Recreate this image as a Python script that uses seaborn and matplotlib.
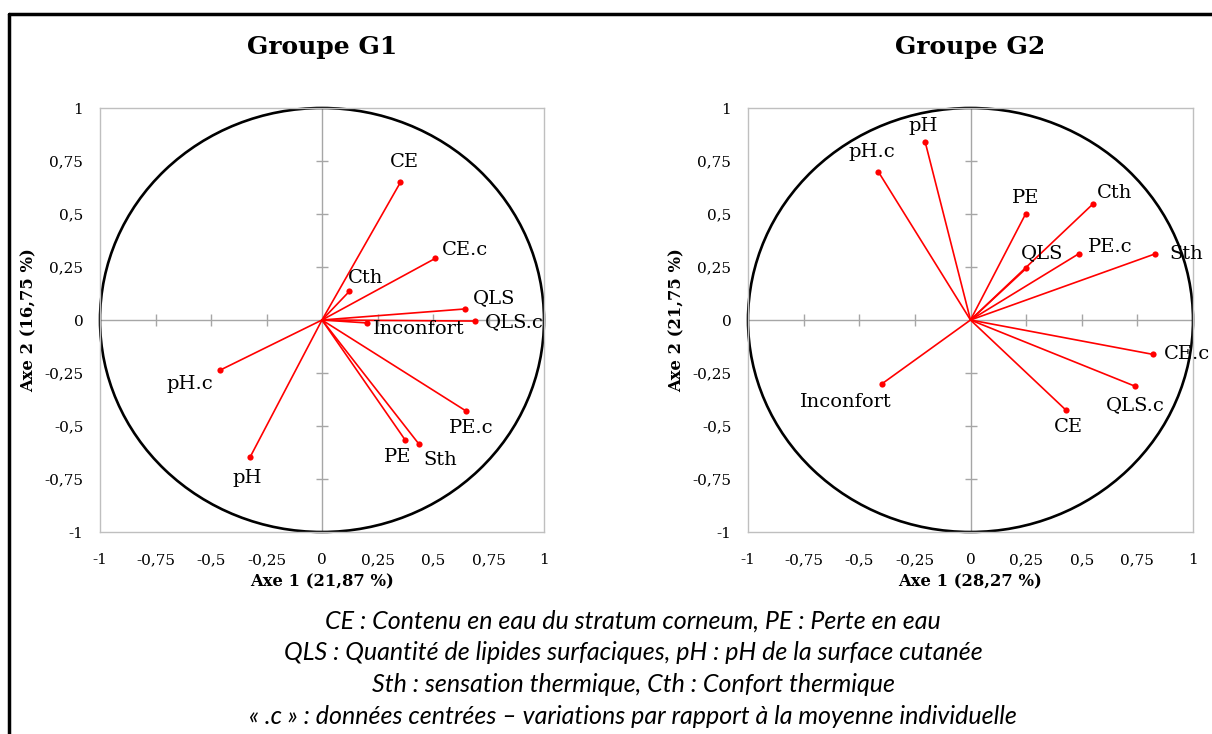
import numpy as np
import pandas as pd
import matplotlib
matplotlib.use('Agg')
import matplotlib.pyplot as plt
import seaborn as sns
from matplotlib.patches import Circle
from matplotlib.lines import Line2D

# variables and their coordinates on the first two axes (correlation circle)
g1_vars = ['CE', 'CE.c', 'Cth', 'QLS', 'QLS.c', 'Inconfort', 'PE.c', 'PE', 'Sth', 'pH.c', 'pH']
g1_axe1 = [0.353, 0.511, 0.123, 0.643, 0.691, 0.204, 0.647, 0.374, 0.435, -0.458, -0.324]
g1_axe2 = [0.649, 0.291, 0.135, 0.052, -0.005, -0.014, -0.428, -0.565, -0.583, -0.236, -0.647]

g2_vars = ['pH', 'pH.c', 'PE', 'Cth', 'QLS', 'PE.c', 'Sth', 'CE.c', 'QLS.c', 'CE', 'Inconfort']
g2_axe1 = [-0.204, -0.414, 0.248, 0.549, 0.251, 0.486, 0.830, 0.819, 0.741, 0.429, -0.398]
g2_axe2 = [0.841, 0.699, 0.501, 0.546, 0.244, 0.312, 0.312, -0.162, -0.313, -0.425, -0.301]

titles = ['Groupe G1', 'Groupe G2']
x_labels = ['Axe 1 (21,87 %)', 'Axe 1 (28,27 %)']
y_labels = ['Axe 2 (16,75 %)', 'Axe 2 (21,75 %)']

ticks = [-1, -0.75, -0.5, -0.25, 0, 0.25, 0.5, 0.75, 1]
tick_labels = ['-1', '-0,75', '-0,5', '-0,25', '0', '0,25', '0,5', '0,75', '1']

caption = ["CE : Contenu en eau du stratum corneum, PE : Perte en eau",
           "QLS : Quantité de lipides surfaciques, pH : pH de la surface cutanée",
           "Sth : sensation thermique, Cth : Confort thermique",
           "« .c » : données centrées – variations par rapport à la moyenne individuelle"]

# label placement (pixels offset from the point, horizontal alignment)
g1_offsets = {'CE': (4, 20, 'center'), 'CE.c': (6, 8, 'left'), 'Cth': (-1, 13, 'left'),
              'QLS': (8, 11, 'left'), 'QLS.c': (9, -1, 'left'), 'Inconfort': (6, -6, 'left'),
              'PE.c': (6, -17, 'center'), 'PE': (-7, -17, 'center'), 'Sth': (22, -16, 'center'),
              'pH.c': (-31, -14, 'center'), 'pH': (-3, -21, 'center')}
g2_offsets = {'pH': (-2, 16, 'center'), 'pH.c': (-7, 20, 'center'), 'PE': (0, 16, 'center'),
              'Cth': (4, 11, 'left'), 'QLS': (16, 15, 'center'), 'PE.c': (9, 7, 'left'),
              'Sth': (14, 0, 'left'), 'CE.c': (11, 0, 'left'), 'QLS.c': (0, -19, 'center'),
              'CE': (2, -17, 'center'), 'Inconfort': (-36, -18, 'center')}

sns.set_style('white')
plt.rcParams['font.family'] = ['DejaVu Serif']
plt.rcParams['text.color'] = 'black'
plt.rcParams['axes.labelcolor'] = 'black'
plt.rcParams['xtick.color'] = 'black'
plt.rcParams['ytick.color'] = 'black'

fig = plt.figure(figsize=(12.12, 7.34), dpi=100)
W, H = 1212, 734


def correlation_circle(rect, names, a1, a2, offsets, title, xlabel, ylabel):
    ax = fig.add_axes(rect)
    ax.set_xlim(-1, 1)
    ax.set_ylim(-1, 1)
    for s in ax.spines.values():
        s.set_color('#bfbfbf')
        s.set_linewidth(1)

    # zero lines with small cross ticks
    ax.axhline(0, color='#a6a6a6', lw=1, zorder=1)
    ax.axvline(0, color='#a6a6a6', lw=1, zorder=1)
    inner = [t for t in ticks if 0 < abs(t) < 1]
    ax.plot(inner, [0] * len(inner), ls='none', marker='|', ms=8, mew=1, color='#a6a6a6', zorder=1)
    ax.plot([0] * len(inner), inner, ls='none', marker='_', ms=8, mew=1, color='#a6a6a6', zorder=1)

    ax.add_patch(Circle((0, 0), 1, fill=False, ec='black', lw=1.9, zorder=2, clip_on=False))

    df = pd.DataFrame({'var': names, 'x': a1, 'y': a2})
    segs = pd.concat([pd.DataFrame({'var': names, 'x': 0.0, 'y': 0.0, 'o': 0}),
                      df.assign(o=1)]).sort_values(['var', 'o'])
    sns.lineplot(data=segs, x='x', y='y', units='var', estimator=None, sort=False,
                 color='red', lw=1.2, ax=ax, zorder=3)
    sns.scatterplot(data=df, x='x', y='y', color='red', s=20, linewidth=0, ax=ax, zorder=4)

    for n, x, y in zip(names, a1, a2):
        dx, dy, ha = offsets[n]
        ax.annotate(n, (x, y), xytext=(dx, dy), textcoords='offset pixels',
                    ha=ha, va='center', fontsize=14, zorder=5)

    ax.set_xticks(ticks)
    ax.set_yticks(ticks)
    ax.set_xticklabels(tick_labels, fontsize=11)
    ax.set_yticklabels(tick_labels, fontsize=11)
    ax.tick_params(axis='x', length=0, pad=15)
    ax.tick_params(axis='y', length=0, pad=12)
    ax.set_xlabel(xlabel, fontsize=11.8, fontweight='bold', labelpad=5)
    ax.set_ylabel(ylabel, fontsize=11.8, fontweight='bold', labelpad=5)
    ax.text(0.5, 1 + 61 / 424, title, transform=ax.transAxes, ha='center', va='center',
            fontsize=18, fontweight='bold')
    return ax


correlation_circle([100 / W, 1 - 532 / H, 444 / W, 424 / H], g1_vars, g1_axe1, g1_axe2,
                   g1_offsets, titles[0], x_labels[0], y_labels[0])
correlation_circle([748 / W, 1 - 532 / H, 445 / W, 424 / H], g2_vars, g2_axe1, g2_axe2,
                   g2_offsets, titles[1], x_labels[1], y_labels[1])

for i, line in enumerate(caption):
    fig.text(633 / W, 1 - (621 + 31.8 * i) / H, line, ha='center', va='center',
             fontsize=18, style='italic', family=['Lato', 'DejaVu Sans'])

# frame around the figure (top and left edges)
fig.add_artist(Line2D([9 / W, 9 / W], [0, 1 - 14 / H], color='black', lw=2.5))
fig.add_artist(Line2D([9 / W, 1], [1 - 14 / H, 1 - 14 / H], color='black', lw=2.5))

fig.savefig('out.png', dpi=100)
